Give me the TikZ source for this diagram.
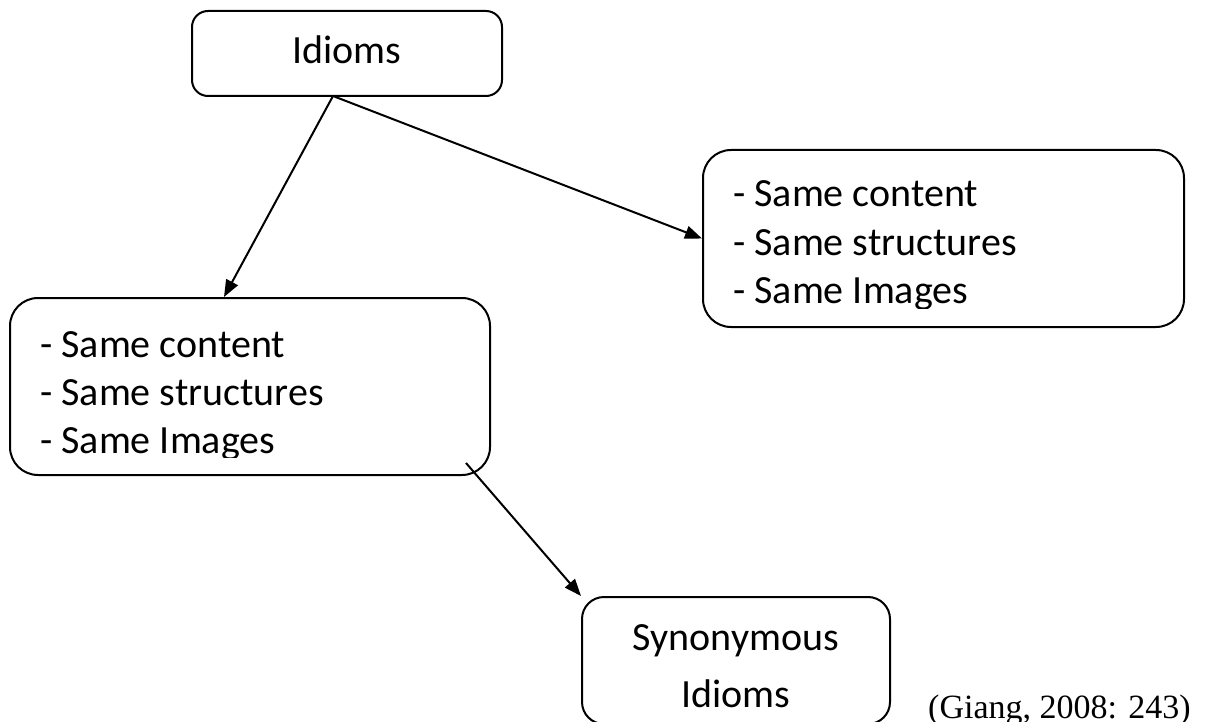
\documentclass[tikz,border=0pt]{standalone}
\usepackage{fontspec}
\setmainfont{Carlito}
\newfontfamily\citefont{Liberation Serif}
\usetikzlibrary{arrows.meta,calc}
\def\boxnode{\node[draw=black,line width=2pt,rounded corners=28pt,inner sep=0pt]}
\def\txtnode{\node[inner sep=0pt,font=\fontsize{40}{48}\selectfont]}
\def\drawarrow{\draw[line width=2pt,-{Triangle[length=17pt,width=13pt]}]}

\begin{document}
\begin{tikzpicture}[x=1pt,y=-1pt]
\useasboundingbox (0,0) rectangle (1205,722);
% boxes
\boxnode[rounded corners=16pt,minimum width=310pt,minimum height=85pt] (idioms) at (347,53.5) {};
\boxnode[minimum width=480pt,minimum height=177pt] (sameL) at (250,386.5) {};
\boxnode[minimum width=481pt,minimum height=177pt] (sameR) at (943.5,238.5) {};
\boxnode[rounded corners=22pt,minimum width=308pt,minimum height=127pt] (syn) at (736,660.5) {};
% texts
\txtnode[anchor=base] (idmtxt) at (347,64) {Idioms};
\begin{scope}
\clip (10,298) rectangle (490,457);
\txtnode[anchor=base west] (lcont) at (40,357) {- Same content};
\txtnode[anchor=base west] (lstruc) at (40,405) {- Same structures};
\txtnode[anchor=base west] (limg) at (40,453) {- Same Images};
\end{scope}
\begin{scope}
\clip (703,150) rectangle (1184,308);
\txtnode[anchor=base west] (rcont) at (733,207) {- Same content};
\txtnode[anchor=base west] (rstruc) at (733,255) {- Same structures};
\txtnode[anchor=base west] (rimg) at (733,303) {- Same Images};
\end{scope}
\txtnode[anchor=base] (syntxt) at (736,650) {Synonymous};
\txtnode[anchor=base] (synidm) at (736,707) {Idioms};
\node[anchor=base west,inner sep=0pt,font=\citefont\fontsize{34}{40}\selectfont] (cite) at (928,718) {(Giang, 2008: 243)};
% arrows
\coordinate (fork) at (333,96);
\coordinate (tail) at (466,463);
\drawarrow (fork) -- ($(sameL.north west)+(215,0)$);
\drawarrow (fork) -- (sameR.west);
\drawarrow (tail) -- (syn.north west);
\end{tikzpicture}
\end{document}
